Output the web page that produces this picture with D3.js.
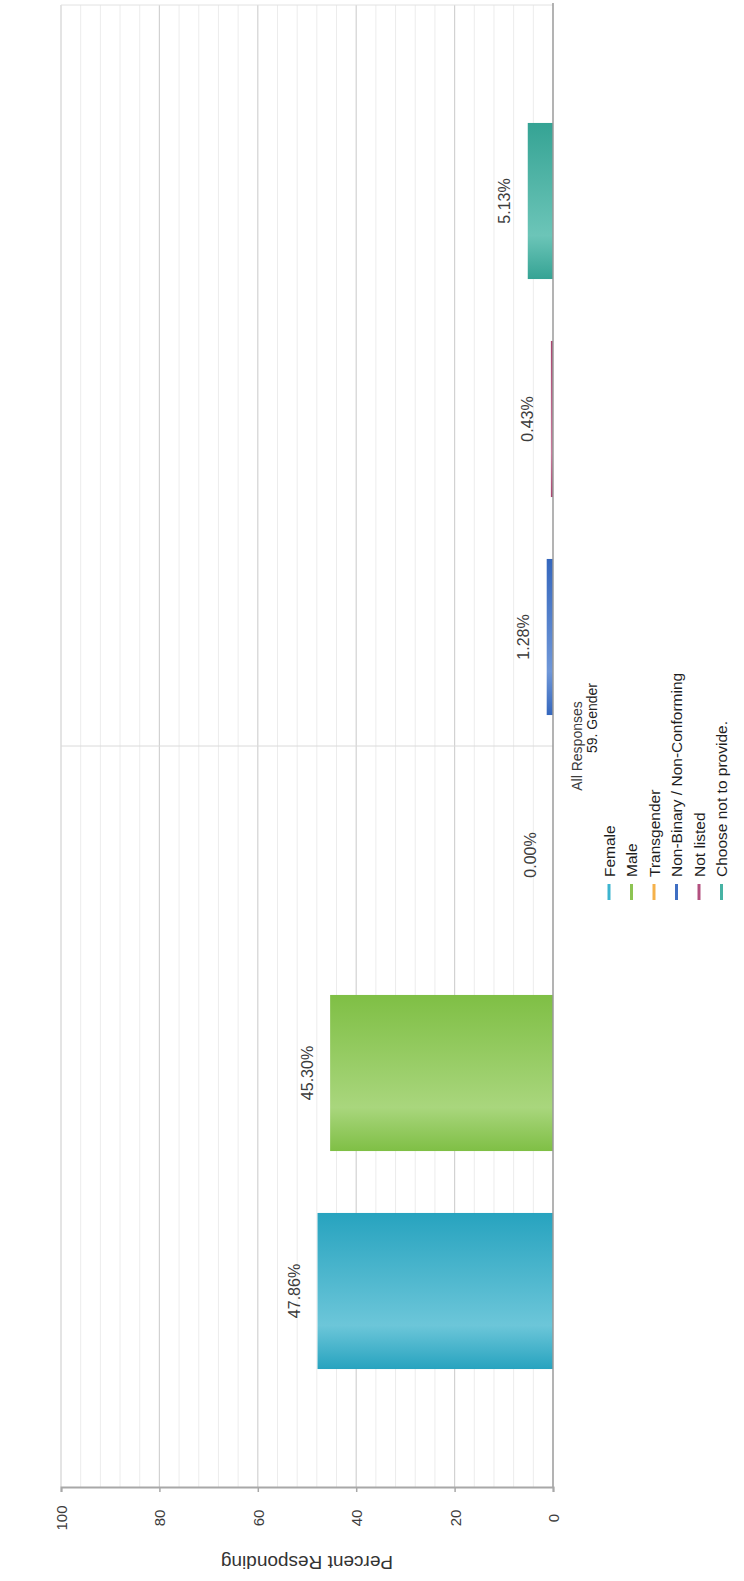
<!DOCTYPE html>
<html><head><meta charset="utf-8">
<script src="https://cdn.jsdelivr.net/npm/d3@7"></script>
<style>
body{margin:0;background:#fff}
svg{display:block}
text{font-family:Arial,"Liberation Sans",sans-serif;fill:#3c3c3c}
</style></head>
<body><svg id="c" width="744" height="1581"></svg>
<script>
const categories = ["Female","Male","Transgender","Non-Binary / Non-Conforming","Not listed","Choose not to provide."];
const values = [47.86, 45.30, 0.00, 1.28, 0.43, 5.13];
const valueLabels = ["47.86%","45.30%","0.00%","1.28%","0.43%","5.13%"];
const barDark = ["#27a3bf","#7fbf45","#f0a22e","#3567bd","#a8456f","#35a394"];
const barLight = ["#6cc6d9","#a9d67d","#f7c56e","#6f97d8","#c97d9e","#6cc5b8"];
const legendColors = ["#3cb4cf","#8dc453","#f5b14a","#3f6fc3","#b2507f","#47b3a4"];
const tickValues = [0,20,40,60,80,100];
const minorTicks = d3.range(0,101,4);
const groupLabel = "All Responses";
const chartTitle = "59. Gender";
const axisTitle = "Percent Responding";

const svg = d3.select("#c");
const plotTop = 5, plotBottom = 1487;
const x = d3.scaleLinear().domain([0,100]).range([553, 61]);
const y = d3.scaleBand().domain(categories).range([1400, 92]).paddingInner(0.284).paddingOuter(0.142);
const yGroup = d3.scaleBand().domain([groupLabel]).range([plotBottom, plotTop]);

const defs = svg.append("defs");
categories.forEach((c,i)=>{
  const g = defs.append("linearGradient").attr("id","g"+i).attr("x1",0).attr("y1",0).attr("x2",0).attr("y2",1);
  g.append("stop").attr("offset","0%").attr("stop-color",barDark[i]);
  g.append("stop").attr("offset","72%").attr("stop-color",barLight[i]);
  g.append("stop").attr("offset","100%").attr("stop-color",barDark[i]);
});

svg.append("g").selectAll("line").data(minorTicks.filter(v=>v%20!==0)).join("line")
  .attr("x1",d=>x(d)).attr("x2",d=>x(d)).attr("y1",plotTop).attr("y2",plotBottom)
  .attr("stroke","#ececec").attr("stroke-width",1);
svg.append("g").selectAll("line").data(tickValues.filter(v=>v>0)).join("line")
  .attr("x1",d=>x(d)).attr("x2",d=>x(d)).attr("y1",plotTop).attr("y2",plotBottom)
  .attr("stroke","#d2d2d2").attr("stroke-width",1.2);
svg.append("line").attr("x1",x(100)).attr("x2",x(0)).attr("y1",plotTop).attr("y2",plotTop).attr("stroke","#e2e2e2");
const gMid = yGroup(groupLabel)+yGroup.bandwidth()/2;
svg.append("line").attr("x1",x(100)).attr("x2",x(0)).attr("y1",gMid).attr("y2",gMid).attr("stroke","#dadada");

svg.append("g").selectAll("rect").data(values).join("rect")
  .attr("x",d=>x(d)).attr("width",d=>x(0)-x(d))
  .attr("y",(d,i)=>y(categories[i])).attr("height",y.bandwidth())
  .attr("fill",(d,i)=>`url(#g${i})`);

svg.append("line").attr("x1",x(0)).attr("x2",x(0)).attr("y1",plotTop-2).attr("y2",plotBottom).attr("stroke","#9a9a9a").attr("stroke-width",1.5);

const axis = d3.axisBottom(x).tickValues(tickValues).tickSize(5).tickFormat(d3.format("d"));
const ag = svg.append("g").attr("transform",`translate(0,${plotBottom})`).call(axis);
ag.select(".domain").attr("stroke","#a8a8a8").attr("stroke-width",2);
ag.selectAll(".tick line").attr("stroke","#a8a8a8").attr("stroke-width",1.5);
ag.selectAll(".tick text").attr("y",0).attr("dy",null)
  .attr("transform",`translate(0,31) rotate(-90)`)
  .attr("text-anchor","middle").attr("dominant-baseline","central")
  .style("font-size","15px").style("fill","#3c3c3c").style("font-family","Arial,'Liberation Sans',sans-serif");

svg.append("text").attr("transform",`translate(${(x(0)+x(100))/2},1562) rotate(180)`)
  .attr("text-anchor","middle").attr("dominant-baseline","central")
  .style("font-size","19px").style("fill","#333").text(axisTitle);

svg.append("g").selectAll("text").data(values).join("text")
  .attr("transform",(d,i)=>`translate(${x(d)-23},${y(categories[i])+y.bandwidth()/2}) rotate(-90)`)
  .attr("text-anchor","middle").attr("dominant-baseline","central")
  .style("font-size","16px").text((d,i)=>valueLabels[i]);

svg.append("text").attr("transform",`translate(577,${gMid}) rotate(-90)`)
  .attr("text-anchor","middle").attr("dominant-baseline","central").style("font-size","14px").text(groupLabel);
svg.append("text").attr("transform",`translate(592,718) rotate(-90)`)
  .attr("text-anchor","middle").attr("dominant-baseline","central").style("font-size","14px").style("fill","#222").text(chartTitle);

const lg = svg.append("g").selectAll("g").data(categories).join("g")
  .attr("transform",(d,i)=>`translate(${609+i*22.5},0)`);
lg.append("line").attr("x1",0).attr("x2",0).attr("y1",884).attr("y2",900)
  .attr("stroke",(d,i)=>legendColors[i]).attr("stroke-width",3);
lg.append("text").attr("transform","translate(0,877) rotate(-90)")
  .attr("text-anchor","start").attr("dominant-baseline","central")
  .style("font-size","15.5px").style("fill","#1e1e1e").text(d=>d);
</script></body></html>
